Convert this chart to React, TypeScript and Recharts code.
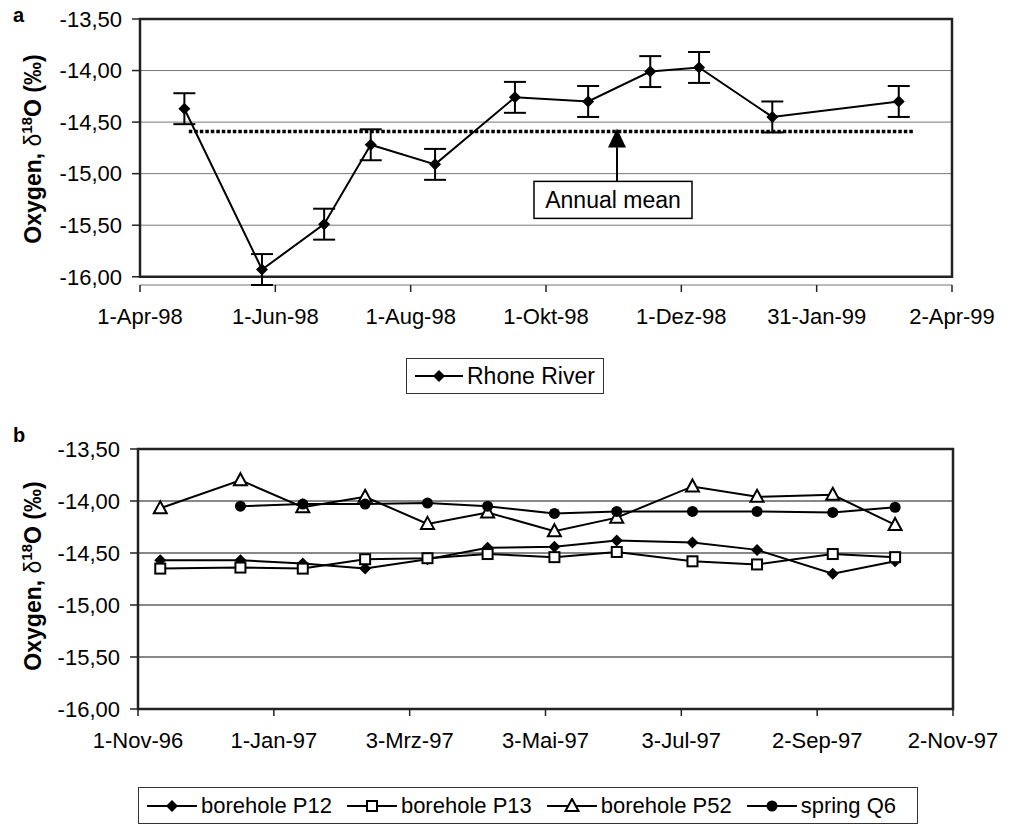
import React from 'react'
import {
  LineChart,
  Line,
  XAxis,
  YAxis,
  CartesianGrid,
  ErrorBar,
  ReferenceLine,
  ReferenceArea,
  ReferenceDot,
  Legend,
} from 'recharts'

const DAY = 86400000
const dayOf = (d: string, start: string) => (Date.parse(d) - Date.parse(start)) / DAY

// panel a: Rhone River
const startA = '1998-04-01'
const riverDates = [
  '1998-04-21', '1998-05-26', '1998-06-23', '1998-07-14', '1998-08-12', '1998-09-17',
  '1998-10-20', '1998-11-17', '1998-12-09', '1999-01-11', '1999-03-09',
]
const riverValues = [-14.37, -15.93, -15.49, -14.72, -14.91, -14.26, -14.3, -14.01, -13.97, -14.45, -14.3]
const riverErrors = [0.15, 0.15, 0.15, 0.15, 0.15, 0.15, 0.15, 0.15, 0.15, 0.15, 0.15]
const annualMean = -14.59
const meanFrom = '1998-04-23'
const meanTo = '1999-03-16'
const arrowDate = '1998-11-02'
const tickDatesA = ['1998-04-01', '1998-06-01', '1998-08-01', '1998-10-01', '1998-12-01', '1999-01-31', '1999-04-02']
const tickLabelsA = ['1-Apr-98', '1-Jun-98', '1-Aug-98', '1-Okt-98', '1-Dez-98', '31-Jan-99', '2-Apr-99']

// panel b: boreholes and spring
const startB = '1996-11-01'
const sampleDates = [
  '1996-11-11', '1996-12-17', '1997-01-14', '1997-02-11', '1997-03-11', '1997-04-07',
  '1997-05-07', '1997-06-04', '1997-07-08', '1997-08-06', '1997-09-09', '1997-10-07',
]
const p12 = [-14.57, -14.57, -14.6, -14.65, -14.56, -14.45, -14.44, -14.38, -14.4, -14.47, -14.7, -14.58]
const p13 = [-14.65, -14.64, -14.65, -14.56, -14.55, -14.51, -14.54, -14.49, -14.58, -14.61, -14.51, -14.54]
const p52 = [-14.07, -13.8, -14.06, -13.96, -14.22, -14.11, -14.29, -14.16, -13.86, -13.96, -13.94, -14.23]
const q6 = [null, -14.05, -14.03, -14.03, -14.02, -14.05, -14.12, -14.1, -14.1, -14.1, -14.11, -14.06]
const tickDatesB = ['1996-11-01', '1997-01-01', '1997-03-03', '1997-05-03', '1997-07-03', '1997-09-02', '1997-11-02']
const tickLabelsB = ['1-Nov-96', '1-Jan-97', '3-Mrz-97', '3-Mai-97', '3-Jul-97', '2-Sep-97', '2-Nov-97']

const yTicks = [-16, -15.5, -15, -14.5, -14, -13.5]

const FONT = '"Liberation Sans", Arial, sans-serif'

const dataA = riverDates.map((d, i) => ({ t: dayOf(d, startA), v: riverValues[i], err: riverErrors[i] }))
const dataB = sampleDates.map((d, i) => ({ t: dayOf(d, startB), p12: p12[i], p13: p13[i], p52: p52[i], q6: q6[i] }))
const ticksA = tickDatesA.map((d) => dayOf(d, startA))
const ticksB = tickDatesB.map((d) => dayOf(d, startB))

const seriesB = [
  { key: 'p12', name: 'borehole P12', kind: 'diamond' },
  { key: 'p13', name: 'borehole P13', kind: 'square' },
  { key: 'p52', name: 'borehole P52', kind: 'triangle' },
  { key: 'q6', name: 'spring Q6', kind: 'circle' },
]

function Marker({ kind, cx, cy }: { kind: string; cx: number; cy: number }) {
  if (kind === 'diamond')
    return <polygon points={`${cx},${cy - 6} ${cx + 6},${cy} ${cx},${cy + 6} ${cx - 6},${cy}`} fill="#000" />
  if (kind === 'square')
    return <rect x={cx - 5} y={cy - 5} width={10} height={10} fill="#fff" stroke="#000" strokeWidth={2} />
  if (kind === 'triangle')
    return (
      <polygon
        points={`${cx},${cy - 7} ${cx + 6.5},${cy + 5} ${cx - 6.5},${cy + 5}`}
        fill="#fff"
        stroke="#000"
        strokeWidth={2}
      />
    )
  return <circle cx={cx} cy={cy} r={5.5} fill="#000" />
}

const dotOf = (kind: string) => (p: any) => {
  if (p.cx == null || p.cy == null || p.value == null) return <g key={`e-${p.index}`} />
  return (
    <g key={`d-${p.index}`}>
      <Marker kind={kind} cx={p.cx} cy={p.cy} />
    </g>
  )
}

const fmtY = (v: number) => v.toFixed(2).replace('.', ',')

const yTitle = (props: any) => {
  const vb = props.viewBox || {}
  const cy = vb.y + vb.height / 2 - 3
  return (
    <text
      transform={`translate(41, ${cy}) rotate(-90)`}
      textAnchor="middle"
      fontSize={23}
      fontWeight="bold"
      fill="#000"
      fontFamily={FONT}
    >
      Oxygen,{' '}
      <tspan fontWeight="normal">δ</tspan>
      <tspan fontSize={15} dy={-9}>
        18
      </tspan>
      <tspan dy={9}>O (‰)</tspan>
    </text>
  )
}

function LegendBox({ items, fontSize, iconW }: { items: { name: string; kind: string }[]; fontSize: number; iconW: number }) {
  return (
    <div
      style={{
        display: 'flex',
        alignItems: 'center',
        height: '100%',
        boxSizing: 'border-box',
        border: '1.5px solid #333',
        background: '#fff',
        padding: '0 8px',
        fontFamily: FONT,
        fontSize,
        color: '#000',
        whiteSpace: 'nowrap',
      }}
    >
      {items.map((it, i) => (
        <div key={it.name} style={{ display: 'flex', alignItems: 'center', marginLeft: i === 0 ? 0 : 15 }}>
          <svg width={iconW} height={16} style={{ marginRight: 4 }}>
            <line x1={0} x2={iconW} y1={8} y2={8} stroke="#000" strokeWidth={2} />
            <Marker kind={it.kind} cx={iconW / 2} cy={8} />
          </svg>
          <span>{it.name}</span>
        </div>
      ))}
    </div>
  )
}

const renderArrow = (p: any) => {
  const { cx, cy } = p
  return (
    <g>
      <polygon points={`${cx},${cy - 3} ${cx + 9},${cy + 16} ${cx - 9},${cy + 16}`} fill="#000" />
      <line x1={cx} x2={cx} y1={cy + 16} y2={cy + 50} stroke="#000" strokeWidth={2} />
      <rect x={cx - 83} y={cy + 50} width={158} height={37} fill="#fff" stroke="#000" strokeWidth={1.5} />
      <text x={cx - 4} y={cy + 77} textAnchor="middle" fontSize={23} fontFamily={FONT} fill="#000">
        Annual mean
      </text>
    </g>
  )
}

const tickStyle = { fill: '#000', fontSize: 22, fontFamily: FONT }

export default function App() {
  return (
    <div style={{ position: 'absolute', left: 0, top: 0, width: 1013, height: 824, background: '#fff', fontFamily: FONT }}>
      <div style={{ position: 'absolute', left: 13, top: 5, fontSize: 20, fontWeight: 'bold', lineHeight: '20px' }}>a</div>
      <div style={{ position: 'absolute', left: 13, top: 425, fontSize: 20, fontWeight: 'bold', lineHeight: '20px' }}>b</div>

      <div style={{ position: 'absolute', left: 0, top: 0 }}>
        <LineChart width={1013} height={410} data={dataA} margin={{ top: 19, right: 61, left: 0, bottom: 85 }}>
          <CartesianGrid vertical={false} stroke="#777" strokeWidth={1} />
          <XAxis
            type="number"
            dataKey="t"
            domain={[0, 366]}
            ticks={ticksA}
            interval={0}
            tickFormatter={(v: number) => tickLabelsA[ticksA.indexOf(v)] ?? ''}
            tick={tickStyle}
            tickSize={7}
            tickMargin={16}
            tickLine={{ stroke: '#222', strokeWidth: 1.5 }}
            axisLine={false}
            height={40}
          />
          <YAxis
            type="number"
            domain={[() => -16, () => -13.5]}
            ticks={yTicks}
            interval={0}
            tickFormatter={fmtY}
            tick={tickStyle}
            tickSize={8}
            tickMargin={10}
            tickLine={{ stroke: '#222', strokeWidth: 1.5 }}
            axisLine={false}
            width={140}
            label={yTitle}
          />
          <ReferenceArea x1={0} x2={366} y1={-16} y2={-13.5} fill="none" stroke="#222" strokeWidth={2.5} />
          <ReferenceLine
            segment={[
              { x: dayOf(meanFrom, startA), y: annualMean },
              { x: dayOf(meanTo, startA), y: annualMean },
            ]}
            stroke="#000"
            strokeWidth={3.5}
            strokeDasharray="3.5 2"
          />
          <ReferenceDot x={dayOf(arrowDate, startA)} y={annualMean} shape={renderArrow} />
          <Line
            type="linear"
            dataKey="v"
            name="Rhone River"
            stroke="#000"
            strokeWidth={2}
            dot={dotOf('diamond')}
            activeDot={false}
            isAnimationActive={false}
          >
            <ErrorBar dataKey="err" direction="y" width={11} stroke="#000" strokeWidth={2} isAnimationActive={false} />
          </Line>
          <Legend
            layout="horizontal"
            verticalAlign="middle"
            align="center"
            wrapperStyle={{ left: 406, top: 358, width: 198, height: 36 }}
            content={() => <LegendBox items={[{ name: 'Rhone River', kind: 'diamond' }]} fontSize={23} iconW={48} />}
          />
        </LineChart>
      </div>

      <div style={{ position: 'absolute', left: 0, top: 430 }}>
        <LineChart width={1013} height={394} data={dataB} margin={{ top: 19, right: 60, left: 0, bottom: 75 }}>
          <CartesianGrid vertical={false} stroke="#111" strokeWidth={1} />
          <XAxis
            type="number"
            dataKey="t"
            domain={[0, 366]}
            ticks={ticksB}
            interval={0}
            tickFormatter={(v: number) => tickLabelsB[ticksB.indexOf(v)] ?? ''}
            tick={tickStyle}
            tickSize={7}
            tickMargin={16}
            tickLine={{ stroke: '#222', strokeWidth: 1.5 }}
            axisLine={false}
            height={40}
          />
          <YAxis
            type="number"
            domain={[() => -16, () => -13.5]}
            ticks={yTicks}
            interval={0}
            tickFormatter={fmtY}
            tick={tickStyle}
            tickSize={8}
            tickMargin={10}
            tickLine={{ stroke: '#222', strokeWidth: 1.5 }}
            axisLine={false}
            width={138}
            label={yTitle}
          />
          <ReferenceArea x1={0} x2={366} y1={-16} y2={-13.5} fill="none" stroke="#222" strokeWidth={2.5} />
          {seriesB.map((s) => (
            <Line
              key={s.key}
              type="linear"
              dataKey={s.key}
              name={s.name}
              stroke="#000"
              strokeWidth={2}
              dot={dotOf(s.kind)}
              activeDot={false}
              isAnimationActive={false}
            />
          ))}
          <Legend
            layout="horizontal"
            verticalAlign="middle"
            align="center"
            wrapperStyle={{ left: 138, top: 357, width: 780, height: 37 }}
            content={() => <LegendBox items={seriesB} fontSize={22} iconW={50} />}
          />
        </LineChart>
      </div>
    </div>
  )
}
